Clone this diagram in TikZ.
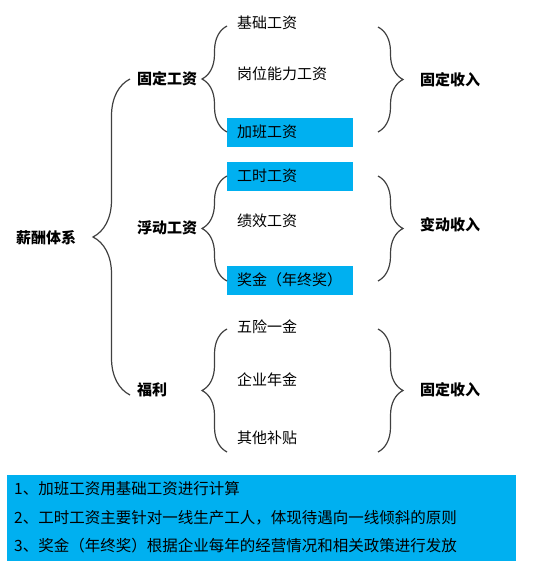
\documentclass[tikz,border=0pt]{standalone}
\usepackage{fontspec}
\setmainfont{Noto Sans CJK SC}
\usetikzlibrary{decorations.pathreplacing}
\definecolor{boxblue}{HTML}{00B0F0}
\definecolor{bracegray}{HTML}{404040}

\begin{document}
\begin{tikzpicture}[x=1pt,y=-1pt,
    item/.style={anchor=west,inner ysep=0pt,inner xsep=10pt,text width=106pt,align=left,
      minimum height=29pt,font=\fontsize{15}{17}\selectfont},
    hl/.style={item,fill=boxblue},
    head/.style={anchor=west,inner sep=0pt,font=\fontsize{15}{17}\selectfont\bfseries},
    note/.style={anchor=west,inner sep=0pt,font=\fontsize{15.5}{18}\selectfont},
    curly/.style={decorate,decoration={brace,amplitude=#1},draw=bracegray,line width=1.2pt},
    curly/.default=25pt]
  \useasboundingbox (0,0) rectangle (550,570);

  \node[head] (root) at (16,238) {薪酬体系};
  \node[head] (fixed) at (137,79) {固定工资};
  \node[head] (float) at (137,228) {浮动工资};
  \node[head] (welfare) at (137,390) {福利};

  \node[item] (base) at (227,23) {基础工资};
  \node[item] (post) at (227,74) {岗位能力工资};
  \node[hl] (overtime) at (227,132) {加班工资};
  \node[hl] (hours) at (227,176) {工时工资};
  \node[item] (perf) at (227,221) {绩效工资};
  \node[hl] (bonus) at (227,280) {奖金（年终奖）};
  \node[item] (insur) at (227,327) {五险一金};
  \node[item] (annuity) at (227,380) {企业年金};
  \node[item] (allow) at (227,438) {其他补贴};

  \node[head] (inc1) at (420,80) {固定收入};
  \node[head] (inc2) at (420,225) {变动收入};
  \node[head] (inc3) at (420,390) {固定收入};

  \draw[curly=37pt] (130,395) -- (130,79);
  \draw[curly] (227,132) -- (227,26);
  \draw[curly] (227,281) -- (227,176);
  \draw[curly] (227,452) -- (227,329);
  \draw[curly] (378,27) -- (378,132);
  \draw[curly] (378,176) -- (378,281);
  \draw[curly] (378,329) -- (378,452);

  \fill[boxblue] (7,475) rectangle (516,561);
  \node[note] (note1) at (14,489) {1、加班工资用基础工资进行计算};
  \node[note] (note2) at (14,518) {2、工时工资主要针对一线生产工人，体现待遇向一线倾斜的原则};
  \node[note] (note3) at (14,546) {3、奖金（年终奖）根据企业每年的经营情况和相关政策进行发放};
\end{tikzpicture}
\end{document}
